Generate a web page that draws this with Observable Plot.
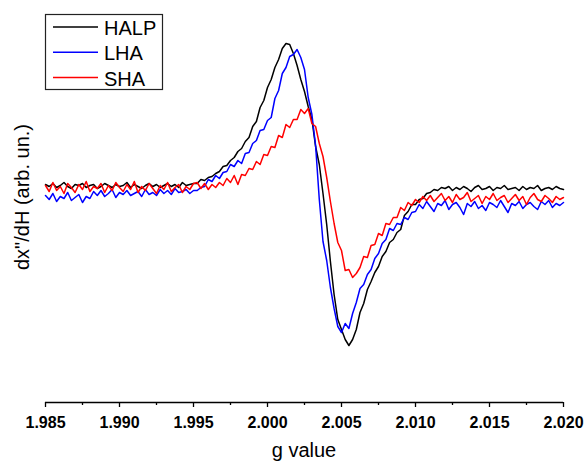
<!DOCTYPE html>
<html><head><meta charset="utf-8">
<script src="https://cdn.jsdelivr.net/npm/d3@7"></script>
<script src="https://cdn.jsdelivr.net/npm/@observablehq/plot@0.6"></script>
<style>
html,body{margin:0;padding:0;background:#fff;}
#chart{width:585px;height:461px;position:relative;overflow:hidden;}
#chart svg{font-family:"Liberation Sans",Arial,sans-serif;}
</style></head><body><div id="chart"></div>
<script>
// g-value sampling grid (shared by all spectra)
const gValues = [
1.98500,1.98525,1.98550,1.98575,1.98600,1.98625,1.98650,1.98675,1.98700,1.98725,
1.98750,1.98775,1.98800,1.98825,1.98850,1.98875,1.98900,1.98925,1.98950,1.98975,
1.99000,1.99025,1.99050,1.99075,1.99100,1.99125,1.99150,1.99175,1.99200,1.99225,
1.99250,1.99275,1.99300,1.99325,1.99350,1.99375,1.99400,1.99425,1.99450,1.99475,
1.99500,1.99525,1.99550,1.99575,1.99600,1.99625,1.99650,1.99675,1.99700,1.99725,
1.99750,1.99775,1.99800,1.99825,1.99850,1.99875,1.99900,1.99925,1.99950,1.99975,
2.00000,2.00025,2.00050,2.00075,2.00100,2.00125,2.00150,2.00175,2.00200,2.00225,
2.00250,2.00275,2.00300,2.00325,2.00350,2.00375,2.00400,2.00425,2.00450,2.00475,
2.00500,2.00525,2.00550,2.00575,2.00600,2.00625,2.00650,2.00675,2.00700,2.00725,
2.00750,2.00775,2.00800,2.00825,2.00850,2.00875,2.00900,2.00925,2.00950,2.00975,
2.01000,2.01025,2.01050,2.01075,2.01100,2.01125,2.01150,2.01175,2.01200,2.01225,
2.01250,2.01275,2.01300,2.01325,2.01350,2.01375,2.01400,2.01425,2.01450,2.01475,
2.01500,2.01525,2.01550,2.01575,2.01600,2.01625,2.01650,2.01675,2.01700,2.01725,
2.01750,2.01775,2.01800,2.01825,2.01850,2.01875,2.01900,2.01925,2.01950,2.01975,
2.02000];

// HALP (black) derivative signal, arb. units
const halp = [
3,1,4,0,2,5,1,-1,3,2,
4,0,2,3,-1,1,4,2,0,3,
1,2,5,0,3,1,-1,2,4,1,
3,0,2,4,1,3,0,5,2,3,
4,
4,8,7,10,11,14,16,21,22,27,
30,36,39,46,50,61,66,80,87,100,
108,120,128,139,144,143,134,122,108,96,
81,68,41,23,-6,-37,-74,-107,-132,-142,
-152,-158,-152,-142,-125,-116,-102,-94,-85,-79,
-69,-64,-55,-52,-45,-42,-28,-24,-17,-17,
-12,-11,-6,-5,-2,-3,0,
-1,1,-3,0,-2,1,-1,-4,0,2,
-2,-1,1,-3,0,-1,2,-2,-1,0,
-3,1,-2,0,-1,2,-3,-1,0,-2,
1,-1,-2];

// LHA (blue)
const lha = [
-8,-12,-6,-14,-9,-11,-5,-13,-10,-7,-15,-9,-11,
-4,-8,-3,-9,-6,-2,-10,-5,-7,-3,-8,-6,-4,-9,-2,-7,-5,-8,
-2,-6,-3,-7,-1,-5,-4,-2,-6,-3,
-3,0,1,8,6,12,9,15,16,23,
21,27,24,34,35,44,47,57,58,67,
70,89,97,114,120,131,133,138,130,118,
90,73,42,-12,-54,-73,-100,-121,-139,-145,
-136,-141,-126,-115,-101,-97,-87,-82,-71,-66,
-56,-52,-41,-43,-36,-37,-30,-32,-25,-24,
-17,-21,-14,-19,-24,-16,-18,-13,-22,-17,
-15,-20,-27,-16,-19,-14,-21,-18,-23,-15,
-17,-20,-13,-19,-25,-16,-18,-14,-21,-17,
-15,-19,-22,-14,-17,-13,-20,-16,-18,-15];

// SHA (red)
const sha = [
2,-4,5,-3,1,-6,4,0,-5,3,
-2,6,-4,1,-1,4,-5,2,-3,5,
0,-4,3,-2,6,-5,1,-3,4,-1,
-6,2,-2,5,-4,0,3,-5,1,-2,
4,
5,-1,4,-2,3,0,5,2,9,5,
12,3,13,12,19,18,26,23,33,32,
41,40,52,50,63,60,68,68,78,74,
79,64,61,44,31,10,-14,-36,-55,-63,
-83,-82,-90,-86,-80,-69,-70,-58,-57,-46,
-48,-36,-37,-30,-30,-20,-23,-15,-18,-12,
-15,-9,-13,
-8,-14,-10,-6,-13,-9,-15,-7,-12,-10,
-5,-14,-11,-8,-16,-9,-12,-6,-13,-10,
-8,-15,-11,-7,-13,-9,-17,-10,-6,-12,
-14,-8,-11,-15,-9,-12,-10];

const sampleNames = ["HALP", "LHA", "SHA"];
const sampleColors = ["#000000", "#0000ff", "#ff0000"];
const majorTicks = [1.985, 1.990, 1.995, 2.000, 2.005, 2.010, 2.015, 2.020];
const minorTicks = [1.9875, 1.9925, 1.9975, 2.0025, 2.0075, 2.0125, 2.0175];
const xLabel = "g value";
const yLabel = "dx\"/dH (arb. un.)";

const seriesValues = [halp, lha, sha];
const rows = [];
seriesValues.forEach((vals, s) => {
  vals.forEach((v, i) => {
    if (i < gValues.length) rows.push({g: gValues[i], v: v, sample: sampleNames[s]});
  });
});

const W = 585, H = 461;
const fmt = d3.format(".3f");
const plot = Plot.plot({
  width: W, height: H,
  marginLeft: 45, marginRight: 22, marginTop: 0, marginBottom: 59,
  style: {fontFamily: '"Liberation Sans", Arial, sans-serif', background: "#fff", color: "#000", overflow: "visible"},
  x: {domain: [1.985, 2.020]},
  y: {domain: [-215, 187], axis: null},
  color: {domain: sampleNames, range: sampleColors},
  marks: [
    Plot.axisX({ticks: majorTicks, tickSize: 5, tickPadding: 9, tickFormat: fmt,
      fontSize: 16, fontWeight: "bold", label: null, strokeWidth: 1.3}),
    Plot.axisX({ticks: minorTicks, tickSize: 3, tickFormat: () => "", label: null, strokeWidth: 1.3}),
    Plot.ruleY([-215], {stroke: "#000", strokeWidth: 1.3}),
    ...sampleNames.map(name => Plot.line(rows.filter(d => d.sample === name),
      {x: "g", y: "v", stroke: "sample", strokeWidth: 1.5}))
  ]
});
document.getElementById("chart").appendChild(plot);

const svg = d3.select(plot);
const font = '"Liberation Sans", Arial, sans-serif';
// axis titles
svg.append("text")
  .attr("transform", "translate(29,197) rotate(-90)")
  .attr("text-anchor", "middle")
  .attr("font-family", font).attr("font-size", 20).attr("fill", "#000")
  .text(yLabel);
svg.append("text")
  .attr("x", 304).attr("y", 457)
  .attr("text-anchor", "middle")
  .attr("font-family", font).attr("font-size", 20).attr("fill", "#000")
  .text(xLabel);
// legend
const lg = svg.append("g");
lg.append("rect").attr("x", 45.5).attr("y", 14.5).attr("width", 117).attr("height", 75)
  .attr("fill", "#fff").attr("stroke", "#222").attr("stroke-width", 1.2);
sampleNames.forEach((name, k) => {
  const cy = 27 + k * 25.3;
  lg.append("line").attr("x1", 53).attr("x2", 98).attr("y1", cy).attr("y2", cy)
    .attr("stroke", sampleColors[k]).attr("stroke-width", 1.5);
  lg.append("text").attr("x", 104).attr("y", cy + 8)
    .attr("text-anchor", "start")
    .attr("font-family", font).attr("font-size", 20).attr("fill", "#000")
    .text(name);
});
</script></body></html>
